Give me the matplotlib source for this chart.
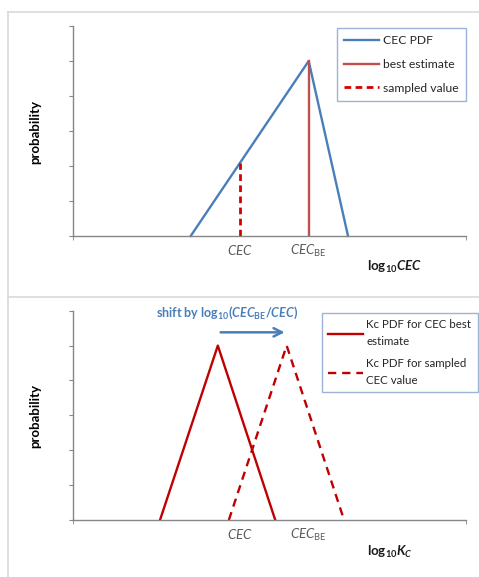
import matplotlib
matplotlib.use("Agg")
import matplotlib.pyplot as plt
from matplotlib.lines import Line2D

plt.rcParams.update({
    "font.family": ["Lato", "DejaVu Sans"],
    "mathtext.fontset": "custom",
    "mathtext.rm": "Lato",
    "mathtext.it": "Lato:italic",
    "mathtext.bf": "Lato:bold",
    "mathtext.bfit": "Lato:italic:bold",
})

# --- data ---
cec_pdf_x = [3.0, 6.0, 7.0]
cec_pdf_y = [0.0, 5.0, 0.0]
cec_best = 6.0
cec_sampled = 4.25
kc_best_x = [2.22, 3.69, 5.15]
kc_best_y = [0.0, 5.0, 0.0]
kc_sampled_x = [3.97, 5.44, 6.90]
kc_sampled_y = [0.0, 5.0, 0.0]
arrow_x = [3.69, 5.46]
arrow_y = 5.38
tick_pos = [cec_sampled, cec_best]
tick_labels = [r"$\mathit{CEC}$", r"$\mathit{CEC}_{\mathrm{BE}}$"]

BLUE = "#4a7ebb"
RED_BE = "#c0504d"
RED = "#c00000"
RED_DASH = "#d40000"
AXIS = "#868686"
GRAY_TXT = "#595959"

W, H = 479, 577
fig = plt.figure(figsize=(W / 100, H / 100), dpi=100, facecolor="white")


def fx(px):
    return px / W


def fy(py):
    return 1 - py / H


# panel borders
border = "#d9d9d9"
fig.add_artist(Line2D([fx(8), 1], [fy(12), fy(12)], color=border, lw=1.2))
fig.add_artist(Line2D([fx(8), fx(8)], [fy(12), 0], color=border, lw=1.2))
fig.add_artist(Line2D([fx(8), 1], [fy(297), fy(297)], color=border, lw=1.2))


def style_axes(ax):
    ax.set_xlim(0, 10)
    ax.set_ylim(0, 6)
    for s in ("top", "right"):
        ax.spines[s].set_visible(False)
    for s in ("left", "bottom"):
        ax.spines[s].set_color(AXIS)
        ax.spines[s].set_linewidth(1.0)
    ax.set_yticks(range(7))
    ax.set_yticklabels([])
    ax.tick_params(axis="y", length=3, color=AXIS, direction="out")
    ax.set_xticks(tick_pos)
    ax.set_xticklabels(tick_labels, fontsize=9.5, color=GRAY_TXT)
    ax.tick_params(axis="x", length=0, pad=5)
    ax.set_xticks([0, 10], minor=True)
    ax.tick_params(axis="x", which="minor", length=3, color=AXIS)
    ax.patch.set_alpha(0)


# ---- top panel ----
ax1 = fig.add_axes([fx(72.7), fy(236), fx(466) - fx(72.7), fy(26) - fy(236)])
style_axes(ax1)
ax1.plot(cec_pdf_x, cec_pdf_y, color=BLUE, lw=1.7, label="CEC PDF", clip_on=False)
ax1.plot([cec_best, cec_best], [0, max(cec_pdf_y)], color=RED_BE, lw=1.7,
         label="best estimate")
samp_h = cec_pdf_y[1] * (cec_sampled - cec_pdf_x[0]) / (cec_pdf_x[1] - cec_pdf_x[0])
ax1.plot([cec_sampled, cec_sampled], [0, samp_h], color=RED_DASH, lw=2.0,
         dashes=(2.4, 1.6), label="sampled value")
fig.text(fx(367), fy(267), r"$\mathbf{log}_{\mathbf{10}}\mathbfit{CEC}$",
         fontsize=9.5, color="#1a1a1a", va="center", ha="left")
fig.text(fx(35), fy(132), "probability", rotation=90, fontsize=9.5,
         fontweight="bold", ha="center", va="center")
leg1 = ax1.legend(loc="upper left", bbox_to_anchor=(fx(337), fy(28)),
                  bbox_transform=fig.transFigure, borderaxespad=0, fontsize=8.7,
                  handlelength=2.9, handletextpad=0.3, labelspacing=1.05,
                  fancybox=False, framealpha=1, edgecolor="#9db3d7", borderpad=0.6)
for t in leg1.get_texts():
    t.set_color("#262626")

# ---- bottom panel ----
ax2 = fig.add_axes([fx(72.7), fy(520), fx(466) - fx(72.7), fy(310.7) - fy(520)])
style_axes(ax2)
ax2.plot(kc_best_x, kc_best_y, color=RED, lw=1.7, label="Kc PDF for CEC best\nestimate")
ax2.plot(kc_sampled_x, kc_sampled_y, color=RED, lw=1.7, dashes=(3.5, 2.5),
         label="Kc PDF for sampled\nCEC value")
ax2.annotate("", xy=(arrow_x[1], arrow_y), xytext=(arrow_x[0], arrow_y),
             arrowprops=dict(arrowstyle="->,head_length=0.6,head_width=0.3",
                             color=BLUE, lw=1.8), annotation_clip=False)
fig.text(fx(227), fy(313),
         r"shift by $\mathbf{log}_{\mathbf{10}}\mathbf{(}\mathbfit{CEC}_{\mathbf{BE}}\mathbf{/}\mathbfit{CEC}\mathbf{)}$",
         fontsize=9, fontweight="bold", color=BLUE, ha="center", va="center")
fig.text(fx(367), fy(552), r"$\mathbf{log}_{\mathbf{10}}\mathbfit{K}_{\mathbfit{C}}$",
         fontsize=9.5, color="#1a1a1a", va="center", ha="left")
fig.text(fx(35), fy(416), "probability", rotation=90, fontsize=9.5,
         fontweight="bold", ha="center", va="center")
leg2 = ax2.legend(loc="upper left", bbox_to_anchor=(fx(322), fy(313)),
                  bbox_transform=fig.transFigure, borderaxespad=0, fontsize=8.3,
                  handlelength=3.0, handletextpad=0.3, labelspacing=0.95,
                  fancybox=False, framealpha=1, edgecolor="#9db3d7", borderpad=0.55)
for t in leg2.get_texts():
    t.set_color("#262626")
    t.set_linespacing(1.65)

fig.savefig("out.png", dpi=100, facecolor="white")
